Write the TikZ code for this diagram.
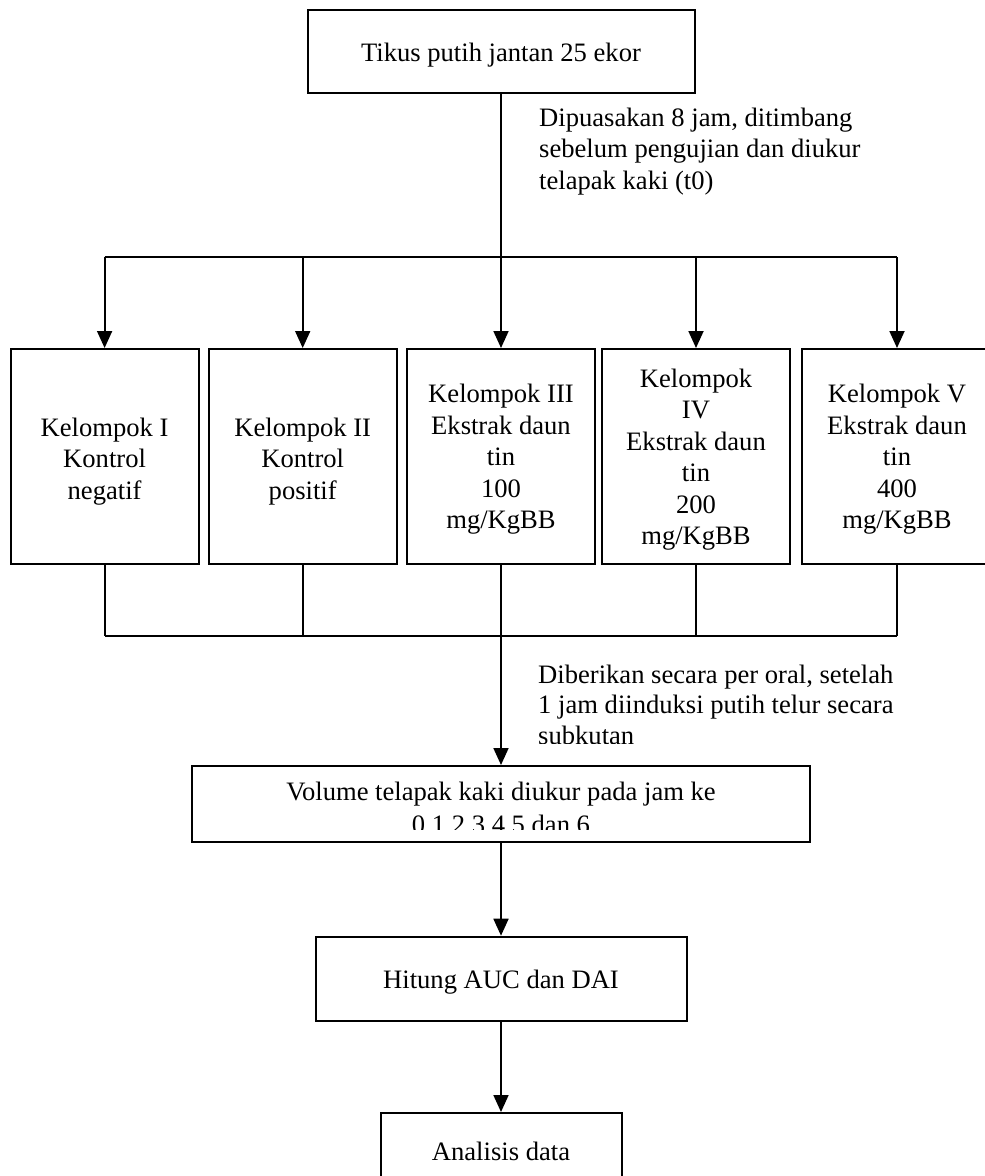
\documentclass[tikz,border=0pt]{standalone}
\usepackage{fontspec}
\setmainfont{Liberation Serif}
\usetikzlibrary{arrows.meta}
\begin{document}
\begin{tikzpicture}[x=1pt,y=-1pt,
  txt/.style={inner sep=0pt,align=center,font=\fontsize{26.6}{31.5}\selectfont},
  box/.style={draw,line width=2pt,inner sep=0pt},
  grp/.style={box,minimum width=188pt,minimum height=215pt},
  lbl/.style={txt,align=left},
  conn/.style={line width=1.8pt},
  arr/.style={conn,-{Triangle[width=15pt,length=17pt]}}]
\useasboundingbox (0,0) rectangle (985,1176);
\fill[white] (0,0) rectangle (985,1176);

\node[box,minimum width=387pt,minimum height=83pt] (top) at (501,51.3) {};
\node[txt] (toptext) at ([yshift=-4pt]top.center) {Tikus putih jantan 25 ekor};
\node[lbl,anchor=base west] (l1) at (539,189) {Dipuasakan 8 jam, ditimbang\\sebelum pengujian dan diukur\\telapak kaki (t0)};

\node[grp] (g1) at (104.6,456.5) {};
\node[grp] (g2) at (302.7,456.5) {};
\node[grp] (g3) at (501,456.5) {};
\node[grp] (g4) at (696,456.5) {};
\node[grp,minimum width=190pt] (g5) at (897,456.5) {};
\node[txt] (g1text) at ([yshift=-5pt]g1.center) {Kelompok I\\Kontrol\\negatif};
\node[txt] (g2text) at ([yshift=-5pt]g2.center) {Kelompok II\\Kontrol\\positif};
\node[txt] (g3text) at ([yshift=-3pt]g3.center) {Kelompok III\\Ekstrak daun\\tin\\100\\mg/KgBB};
\node[txt] (g4text) at ([yshift=-3pt]g4.center) {Kelompok\\IV\\Ekstrak daun\\tin\\200\\mg/KgBB};
\node[txt] (g5text) at ([yshift=-3pt]g5.center) {Kelompok V\\Ekstrak daun\\tin\\400\\mg/KgBB};

\coordinate (sy) at (0,257);
\coordinate (jy) at (0,636);
\draw[conn] (top.south) -- (top.south |- sy);
\draw[conn] (g1.north |- sy) -- (g5.north |- sy);
\foreach \g in {g1,g2,g3,g4,g5}{
  \draw[arr] (\g.north |- sy) -- (\g.north);
  \draw[conn] (\g.south) -- (\g.south |- jy);
}
\draw[conn] (g1.south |- jy) -- (g5.south |- jy);

\begin{scope}
\clip (0,0) rectangle (985,743);
\node[lbl,anchor=base west,font=\fontsize{26.6}{30.5}\selectfont] (l2) at (538,744) {Diberikan secara per oral, setelah\\1 jam diinduksi putih telur secara\\subkutan};
\end{scope}

\node[box,minimum width=618pt,minimum height=76pt] (vol) at (501,804) {};
\begin{scope}
\clip (0,0) rectangle (985,829);
\node[txt,anchor=base,font=\fontsize{26.6}{33}\selectfont] (voltext) at (501,833) {Volume telapak kaki diukur pada jam ke\\0,1,2,3,4,5,dan 6};
\end{scope}

\node[box,minimum width=371pt,minimum height=84pt] (hit) at (501,978.7) {};
\node[txt] (hittext) at ([yshift=-3pt]hit.center) {Hitung AUC dan DAI};
\node[box,minimum width=241pt,minimum height=76pt] (ana) at (501,1151) {};
\node[txt] (anatext) at (ana.center) {Analisis data};

\draw[arr] (g3.south |- jy) -- (vol.north);
\draw[arr] (vol.south) -- (hit.north);
\draw[arr] (hit.south) -- (ana.north);
\end{tikzpicture}
\end{document}
